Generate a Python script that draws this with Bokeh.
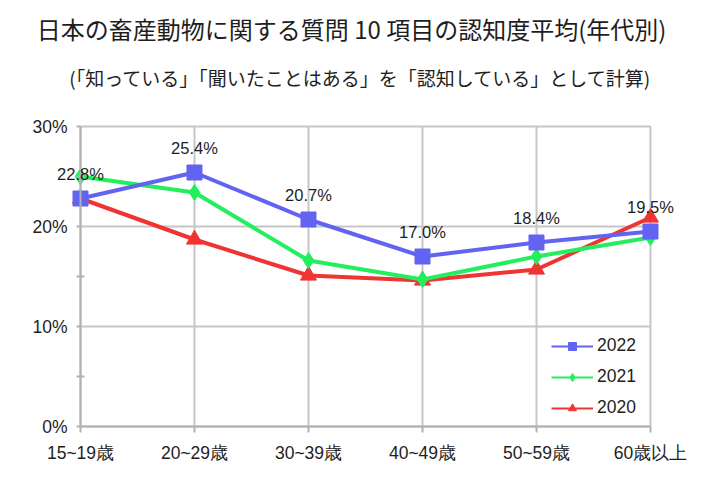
from bokeh.plotting import figure
from bokeh.models import (ColumnDataSource, Range1d, FixedTicker, Label, LabelSet,
                          Legend, LegendItem)
from bokeh.core.properties import value
from bokeh.embed import file_html
from bokeh.resources import INLINE

categories = ["15~19歳", "20~29歳", "30~39歳", "40~49歳", "50~59歳", "60歳以上"]
y2022 = [22.8, 25.4, 20.7, 17.0, 18.4, 19.5]
y2021 = [25.0, 23.4, 16.6, 14.7, 17.0, 18.9]
y2020 = [22.8, 18.7, 15.1, 14.6, 15.7, 20.9]
label_2022 = ["22.8%", "25.4%", "20.7%", "17.0%", "18.4%", "19.5%"]
y_ticks = [0, 10, 20, 30]
y_tick_labels = ["0%", "10%", "20%", "30%"]
y_minor = [5, 15, 25]
title_text = "日本の畜産動物に関する質問 10 項目の認知度平均(年代別)"
subtitle_text = "(「知っている」「聞いたことはある」を「認知している」として計算)"

xs = list(range(len(categories)))
last = xs[-1]
LATIN = "Liberation Sans"
CJK = "Noto Sans CJK JP"
TXT = "#1e1e1e"

# the frame covers almost the whole canvas so that no label is clipped;
# the plotting area 0..last / 0..30 sits inside it
p = figure(width=704, height=480, output_backend="svg", toolbar_location=None,
           x_range=Range1d(-0.5263, 5.4386), y_range=Range1d(-4.0, 42.2),
           min_border_left=20, min_border_right=4, min_border_top=4,
           min_border_bottom=14)
p.outline_line_color = None
p.xgrid.visible = False
p.ygrid.visible = False

grid_col = "#c6c6c6"
axis_col = "#b2b2b2"
p.segment(x0=[0] * len(y_ticks), x1=[last] * len(y_ticks), y0=y_ticks, y1=y_ticks,
          line_color=grid_col, line_width=2)
p.segment(x0=xs, x1=xs, y0=[0] * len(xs), y1=[y_ticks[-1]] * len(xs),
          line_color=grid_col, line_width=2)

xa = p.xaxis[0]
ya = p.yaxis[0]
xa.ticker = FixedTicker(ticks=xs)
xa.major_label_overrides = {i: "" for i in xs}
xa.bounds = (0, last)
xa.fixed_location = 0
ya.ticker = FixedTicker(ticks=y_ticks, minor_ticks=y_minor)
ya.major_label_overrides = {t: "" for t in y_ticks}
ya.bounds = (0, y_ticks[-1])
ya.fixed_location = 0

for ax in (xa, ya):
    ax.axis_line_color = axis_col
    ax.axis_line_width = 2
    ax.major_tick_line_color = axis_col
    ax.major_tick_line_width = 2
    ax.minor_tick_line_color = axis_col
    ax.minor_tick_line_width = 2
    ax.major_label_text_font_size = "0px"
    ax.major_label_standoff = 0

xa.major_tick_in = 0
xa.major_tick_out = 6
xa.minor_tick_in = 0
xa.minor_tick_out = 0
ya.major_tick_in = 0
ya.major_tick_out = 4
ya.minor_tick_in = 4
ya.minor_tick_out = 4

# tick labels
ysrc = ColumnDataSource(dict(x=[0] * len(y_ticks), y=y_ticks, t=y_tick_labels))
p.add_layout(LabelSet(x="x", y="y", text="t", source=ysrc, text_align="right",
                      text_baseline="middle", x_offset=-13, text_font=value(LATIN),
                      text_font_size=value("17.5px"), text_color=TXT))
xsrc = ColumnDataSource(dict(x=xs, y=[0] * len(xs), t=categories))
p.add_layout(LabelSet(x="x", y="y", text="t", source=xsrc, text_align="center",
                      text_baseline="middle", y_offset=-26, text_font=value(LATIN),
                      text_font_size=value("17.5px"), text_color=TXT))

src = ColumnDataSource(dict(x=xs, y2022=y2022, y2021=y2021, y2020=y2020, lab=label_2022))

blue = "#6363f2"
green = "#22ee5e"
red = "#f03434"

# thin legend proxies, hidden beneath the thicker series drawn on top
lg = {}
for key, col, mk, ms in (("y2020", red, "triangle", 10), ("y2021", green, "diamond", 11),
                         ("y2022", blue, "square", 10)):
    l = p.line("x", key, source=src, line_color=col, line_width=2)
    m = p.scatter("x", key, source=src, marker=mk, size=ms, fill_color=col, line_color=col)
    lg[key] = [l, m]

p.line("x", "y2020", source=src, line_color=red, line_width=4)
p.scatter("x", "y2020", source=src, marker="triangle", size=16,
          fill_color=red, line_color=red)
p.line("x", "y2021", source=src, line_color=green, line_width=4)
p.scatter("x", "y2021", source=src, marker="diamond", size=16,
          fill_color=green, line_color=green)
p.line("x", "y2022", source=src, line_color=blue, line_width=4)
p.scatter("x", "y2022", source=src, marker="square", size=15,
          fill_color=blue, line_color=blue)

p.add_layout(LabelSet(x="x", y="y2022", text="lab", source=src, text_align="center",
                      text_baseline="middle", y_offset=25, text_font=value(LATIN),
                      text_font_size=value("16.5px"), text_color=TXT))

legend = Legend(items=[LegendItem(label="2022", renderers=lg["y2022"]),
                       LegendItem(label="2021", renderers=lg["y2021"]),
                       LegendItem(label="2020", renderers=lg["y2020"])],
                location=(531, 48), border_line_color=None,
                background_fill_alpha=0, label_text_font=LATIN,
                label_text_font_size="17.5px", label_text_color=TXT,
                glyph_width=42, glyph_height=20, label_height=20, spacing=10,
                padding=2, margin=0, label_standoff=4)
p.add_layout(legend)

p.add_layout(Label(x=2.378, y=39.8, text=title_text, text_align="center",
                   text_baseline="middle", text_font=CJK, text_font_size="24px",
                   text_color=TXT))
p.add_layout(Label(x=2.5, y=34.9, text=subtitle_text, text_align="center",
                   text_baseline="middle", text_font=CJK, text_font_size="19px",
                   text_color=TXT))

open("out.html", "w").write(file_html(p, INLINE))
